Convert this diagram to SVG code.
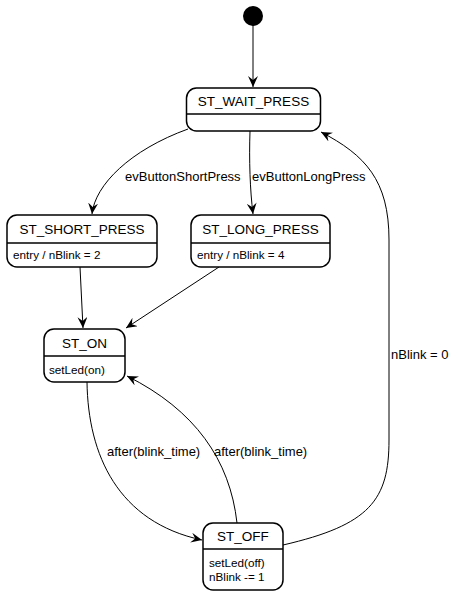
<svg xmlns="http://www.w3.org/2000/svg" width="457" height="594" viewBox="0 0 457 594">
<defs>
<style>
.box{fill:#fff;stroke:#000;stroke-width:1.5}
.div{stroke:#000;stroke-width:1.5}
.t{font-family:"Liberation Sans",Arial,sans-serif;font-size:13.5px;fill:#000;text-anchor:middle}
.b{font-family:"Liberation Sans",Arial,sans-serif;font-size:11.7px;fill:#000}
.l{font-family:"Liberation Sans",Arial,sans-serif;font-size:13px;fill:#000}
.e{fill:none;stroke:#000;stroke-width:1}
</style>
<marker id="a" markerWidth="12" markerHeight="10" refX="11" refY="5" orient="auto" markerUnits="userSpaceOnUse">
<path d="M0,0 L11,5 L0,10 L4,5 Z" fill="#000"/>
</marker>
</defs>
<g id="connectors">
<path class="e" d="M253,25 L253,87" marker-end="url(#a)"/>
<path class="e" d="M188,129 C130,150 95,185 92,214" marker-end="url(#a)"/>
<path class="e" d="M250,131 C249,160 250,190 253,214" marker-end="url(#a)"/>
<path class="e" d="M80,267 L83,328" marker-end="url(#a)"/>
<path class="e" d="M219,267 L126,328" marker-end="url(#a)"/>
<path class="e" d="M87,382 C88,455 118,522 202,540" marker-end="url(#a)"/>
<path class="e" d="M237,523 C230,460 195,410 127,376" marker-end="url(#a)"/>
<path class="e" d="M283,545 C370,525 389,500 389,440 L389,240 C389,180 365,155 321,132" marker-end="url(#a)"/>
<text class="l" x="125" y="181">evButtonShortPress</text>
<text class="l" x="252" y="181">evButtonLongPress</text>
<text class="l" x="107" y="456">after(blink_time)</text>
<text class="l" x="214" y="456">after(blink_time)</text>
<text class="l" x="391" y="359">nBlink = 0</text>
</g>
<g id="initial"><circle cx="253" cy="16" r="10" fill="#000"/></g>
<g id="ST_WAIT_PRESS">
<rect class="box" x="186.5" y="88" width="134" height="43" rx="10"/>
<line class="div" x1="186.5" y1="114" x2="320.5" y2="114"/>
<text class="t" x="253.5" y="106">ST_WAIT_PRESS</text>
</g>
<g id="ST_SHORT_PRESS">
<rect class="box" x="7" y="215" width="150" height="52" rx="10"/>
<line class="div" x1="7" y1="243" x2="157" y2="243"/>
<text class="t" x="82" y="234">ST_SHORT_PRESS</text>
<text class="b" x="13" y="259">entry / nBlink = 2</text>
</g>
<g id="ST_LONG_PRESS">
<rect class="box" x="191" y="215" width="139" height="52" rx="10"/>
<line class="div" x1="191" y1="243" x2="330" y2="243"/>
<text class="t" x="260.5" y="234">ST_LONG_PRESS</text>
<text class="b" x="197" y="259">entry / nBlink = 4</text>
</g>
<g id="ST_ON">
<rect class="box" x="44" y="329" width="81" height="53" rx="10"/>
<line class="div" x1="44" y1="356" x2="125" y2="356"/>
<text class="t" x="84.5" y="348">ST_ON</text>
<text class="b" x="49" y="374">setLed(on)</text>
</g>
<g id="ST_OFF">
<rect class="box" x="203" y="523" width="80" height="67" rx="10"/>
<line class="div" x1="203" y1="549" x2="283" y2="549"/>
<text class="t" x="243" y="541">ST_OFF</text>
<text class="b" x="209" y="567">setLed(off)</text>
<text class="b" x="209" y="581">nBlink -= 1</text>
</g>
</svg>
